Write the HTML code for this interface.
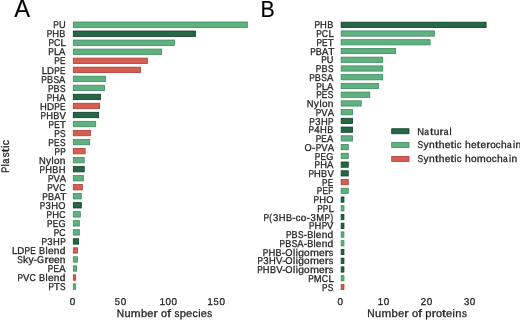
<!DOCTYPE html>
<html><head><meta charset="utf-8"><style>
html,body{margin:0;padding:0;background:#fff;overflow:hidden;}
svg{display:block;will-change:transform;}
text{text-rendering:geometricPrecision;font-family:"Liberation Sans",sans-serif;}
</style></head><body>
<svg width="520" height="320" viewBox="0 0 520 320">
<rect width="520" height="320" fill="#fff"/>
<rect x="73.30" y="22.00" width="174.05" height="5.40" fill="rgb(95,178,128)" stroke="rgb(62,138,96)" stroke-width="0.8"/>
<g fill="#262626" stroke="#262626" stroke-width="0.3" font-size="9.96"><text x="53.33" y="28.35" textLength="5.56" lengthAdjust="spacingAndGlyphs">P</text><text x="58.88" y="28.35" textLength="6.67" lengthAdjust="spacingAndGlyphs">U</text></g>
<rect x="73.30" y="31.03" width="122.20" height="5.40" fill="rgb(38,103,70)" stroke="rgb(12,62,38)" stroke-width="0.8"/>
<g fill="#262626" stroke="#262626" stroke-width="0.3" font-size="9.96"><text x="46.69" y="37.38" textLength="5.56" lengthAdjust="spacingAndGlyphs">P</text><text x="52.27" y="37.38" textLength="6.79" lengthAdjust="spacingAndGlyphs">H</text><text x="59.36" y="37.38" textLength="6.09" lengthAdjust="spacingAndGlyphs">B</text></g>
<rect x="73.30" y="40.06" width="101.10" height="5.40" fill="rgb(95,178,128)" stroke="rgb(62,138,96)" stroke-width="0.8"/>
<g fill="#262626" stroke="#262626" stroke-width="0.3" font-size="9.96"><text x="48.41" y="46.41" textLength="5.56" lengthAdjust="spacingAndGlyphs">P</text><text x="53.93" y="46.41" textLength="6.31" lengthAdjust="spacingAndGlyphs">C</text><text x="60.53" y="46.41" textLength="5.41" lengthAdjust="spacingAndGlyphs">L</text></g>
<rect x="73.30" y="49.09" width="88.40" height="5.40" fill="rgb(95,178,128)" stroke="rgb(62,138,96)" stroke-width="0.8"/>
<g fill="#262626" stroke="#262626" stroke-width="0.3" font-size="9.96"><text x="48.33" y="55.44" textLength="5.56" lengthAdjust="spacingAndGlyphs">P</text><text x="53.88" y="55.44" textLength="5.41" lengthAdjust="spacingAndGlyphs">L</text><text x="59.05" y="55.44" textLength="6.32" lengthAdjust="spacingAndGlyphs">A</text></g>
<rect x="73.30" y="58.12" width="74.10" height="5.40" fill="rgb(214,94,80)" stroke="rgb(172,62,52)" stroke-width="0.8"/>
<g fill="#262626" stroke="#262626" stroke-width="0.3" font-size="9.96"><text x="54.27" y="64.47" textLength="5.56" lengthAdjust="spacingAndGlyphs">P</text><text x="59.96" y="64.47" textLength="5.43" lengthAdjust="spacingAndGlyphs">E</text></g>
<rect x="73.30" y="67.15" width="67.30" height="5.40" fill="rgb(214,94,80)" stroke="rgb(172,62,52)" stroke-width="0.8"/>
<g fill="#262626" stroke="#262626" stroke-width="0.3" font-size="9.96"><text x="41.68" y="73.50" textLength="5.41" lengthAdjust="spacingAndGlyphs">L</text><text x="46.92" y="73.50" textLength="7.02" lengthAdjust="spacingAndGlyphs">D</text><text x="54.27" y="73.50" textLength="5.56" lengthAdjust="spacingAndGlyphs">P</text><text x="59.96" y="73.50" textLength="5.43" lengthAdjust="spacingAndGlyphs">E</text></g>
<rect x="73.30" y="76.18" width="32.20" height="5.40" fill="rgb(95,178,128)" stroke="rgb(62,138,96)" stroke-width="0.8"/>
<g fill="#262626" stroke="#262626" stroke-width="0.3" font-size="9.96"><text x="41.35" y="82.53" textLength="5.56" lengthAdjust="spacingAndGlyphs">P</text><text x="46.96" y="82.53" textLength="6.09" lengthAdjust="spacingAndGlyphs">B</text><text x="53.48" y="82.53" textLength="5.59" lengthAdjust="spacingAndGlyphs">S</text><text x="59.09" y="82.53" textLength="6.32" lengthAdjust="spacingAndGlyphs">A</text></g>
<rect x="73.30" y="85.21" width="31.20" height="5.40" fill="rgb(95,178,128)" stroke="rgb(62,138,96)" stroke-width="0.8"/>
<g fill="#262626" stroke="#262626" stroke-width="0.3" font-size="9.96"><text x="47.96" y="91.56" textLength="5.56" lengthAdjust="spacingAndGlyphs">P</text><text x="53.56" y="91.56" textLength="6.09" lengthAdjust="spacingAndGlyphs">B</text><text x="60.08" y="91.56" textLength="5.59" lengthAdjust="spacingAndGlyphs">S</text></g>
<rect x="73.30" y="94.24" width="27.10" height="5.40" fill="rgb(38,103,70)" stroke="rgb(12,62,38)" stroke-width="0.8"/>
<g fill="#262626" stroke="#262626" stroke-width="0.3" font-size="9.96"><text x="46.71" y="100.59" textLength="5.56" lengthAdjust="spacingAndGlyphs">P</text><text x="52.29" y="100.59" textLength="6.79" lengthAdjust="spacingAndGlyphs">H</text><text x="59.27" y="100.59" textLength="6.32" lengthAdjust="spacingAndGlyphs">A</text></g>
<rect x="73.30" y="103.27" width="26.30" height="5.40" fill="rgb(214,94,80)" stroke="rgb(172,62,52)" stroke-width="0.8"/>
<g fill="#262626" stroke="#262626" stroke-width="0.3" font-size="9.96"><text x="39.88" y="109.62" textLength="6.79" lengthAdjust="spacingAndGlyphs">H</text><text x="46.92" y="109.62" textLength="7.02" lengthAdjust="spacingAndGlyphs">D</text><text x="54.27" y="109.62" textLength="5.56" lengthAdjust="spacingAndGlyphs">P</text><text x="59.96" y="109.62" textLength="5.43" lengthAdjust="spacingAndGlyphs">E</text></g>
<rect x="73.30" y="112.30" width="25.30" height="5.40" fill="rgb(38,103,70)" stroke="rgb(12,62,38)" stroke-width="0.8"/>
<g fill="#262626" stroke="#262626" stroke-width="0.3" font-size="9.96"><text x="40.55" y="118.65" textLength="5.56" lengthAdjust="spacingAndGlyphs">P</text><text x="46.13" y="118.65" textLength="6.79" lengthAdjust="spacingAndGlyphs">H</text><text x="53.22" y="118.65" textLength="6.09" lengthAdjust="spacingAndGlyphs">B</text><text x="59.53" y="118.65" textLength="6.37" lengthAdjust="spacingAndGlyphs">V</text></g>
<rect x="73.30" y="121.33" width="22.40" height="5.40" fill="rgb(95,178,128)" stroke="rgb(62,138,96)" stroke-width="0.8"/>
<g fill="#262626" stroke="#262626" stroke-width="0.3" font-size="9.96"><text x="48.53" y="127.68" textLength="5.56" lengthAdjust="spacingAndGlyphs">P</text><text x="54.21" y="127.68" textLength="5.43" lengthAdjust="spacingAndGlyphs">E</text><text x="59.65" y="127.68" textLength="6.28" lengthAdjust="spacingAndGlyphs">T</text></g>
<rect x="73.30" y="130.36" width="17.20" height="5.40" fill="rgb(214,94,80)" stroke="rgb(172,62,52)" stroke-width="0.8"/>
<g fill="#262626" stroke="#262626" stroke-width="0.3" font-size="9.96"><text x="54.24" y="136.71" textLength="5.56" lengthAdjust="spacingAndGlyphs">P</text><text x="59.92" y="136.71" textLength="5.59" lengthAdjust="spacingAndGlyphs">S</text></g>
<rect x="73.30" y="139.39" width="16.40" height="5.40" fill="rgb(95,178,128)" stroke="rgb(62,138,96)" stroke-width="0.8"/>
<g fill="#262626" stroke="#262626" stroke-width="0.3" font-size="9.96"><text x="48.30" y="145.74" textLength="5.56" lengthAdjust="spacingAndGlyphs">P</text><text x="53.99" y="145.74" textLength="5.43" lengthAdjust="spacingAndGlyphs">E</text><text x="59.92" y="145.74" textLength="5.59" lengthAdjust="spacingAndGlyphs">S</text></g>
<rect x="73.30" y="148.42" width="11.80" height="5.40" fill="rgb(214,94,80)" stroke="rgb(172,62,52)" stroke-width="0.8"/>
<g fill="#262626" stroke="#262626" stroke-width="0.3" font-size="9.96"><text x="54.54" y="154.77" textLength="5.56" lengthAdjust="spacingAndGlyphs">P</text><text x="60.21" y="154.77" textLength="5.56" lengthAdjust="spacingAndGlyphs">P</text></g>
<rect x="73.30" y="157.45" width="10.90" height="5.40" fill="rgb(95,178,128)" stroke="rgb(62,138,96)" stroke-width="0.8"/>
<g fill="#262626" stroke="#262626" stroke-width="0.3" font-size="9.96"><text x="38.88" y="163.80" textLength="6.73" lengthAdjust="spacingAndGlyphs">N</text><text x="46.02" y="163.80" textLength="5.06" lengthAdjust="spacingAndGlyphs">y</text><text x="51.57" y="163.80" textLength="2.15" lengthAdjust="spacingAndGlyphs">l</text><text x="54.03" y="163.80" textLength="5.56" lengthAdjust="spacingAndGlyphs">o</text><text x="59.85" y="163.80" textLength="5.66" lengthAdjust="spacingAndGlyphs">n</text></g>
<rect x="73.30" y="166.48" width="10.90" height="5.40" fill="rgb(38,103,70)" stroke="rgb(12,62,38)" stroke-width="0.8"/>
<g fill="#262626" stroke="#262626" stroke-width="0.3" font-size="9.96"><text x="39.62" y="172.83" textLength="5.56" lengthAdjust="spacingAndGlyphs">P</text><text x="45.21" y="172.83" textLength="6.79" lengthAdjust="spacingAndGlyphs">H</text><text x="52.30" y="172.83" textLength="6.09" lengthAdjust="spacingAndGlyphs">B</text><text x="58.72" y="172.83" textLength="6.79" lengthAdjust="spacingAndGlyphs">H</text></g>
<rect x="73.30" y="175.51" width="10.05" height="5.40" fill="rgb(95,178,128)" stroke="rgb(62,138,96)" stroke-width="0.8"/>
<g fill="#262626" stroke="#262626" stroke-width="0.3" font-size="9.96"><text x="47.95" y="181.86" textLength="5.56" lengthAdjust="spacingAndGlyphs">P</text><text x="53.41" y="181.86" textLength="6.37" lengthAdjust="spacingAndGlyphs">V</text><text x="59.87" y="181.86" textLength="6.32" lengthAdjust="spacingAndGlyphs">A</text></g>
<rect x="73.30" y="184.54" width="9.05" height="5.40" fill="rgb(214,94,80)" stroke="rgb(172,62,52)" stroke-width="0.8"/>
<g fill="#262626" stroke="#262626" stroke-width="0.3" font-size="9.96"><text x="47.22" y="190.89" textLength="5.56" lengthAdjust="spacingAndGlyphs">P</text><text x="52.68" y="190.89" textLength="6.37" lengthAdjust="spacingAndGlyphs">V</text><text x="59.17" y="190.89" textLength="6.31" lengthAdjust="spacingAndGlyphs">C</text></g>
<rect x="73.30" y="193.57" width="8.00" height="5.40" fill="rgb(95,178,128)" stroke="rgb(62,138,96)" stroke-width="0.8"/>
<g fill="#262626" stroke="#262626" stroke-width="0.3" font-size="9.96"><text x="42.32" y="199.92" textLength="5.56" lengthAdjust="spacingAndGlyphs">P</text><text x="47.92" y="199.92" textLength="6.09" lengthAdjust="spacingAndGlyphs">B</text><text x="54.25" y="199.92" textLength="6.32" lengthAdjust="spacingAndGlyphs">A</text><text x="60.38" y="199.92" textLength="6.28" lengthAdjust="spacingAndGlyphs">T</text></g>
<rect x="73.30" y="202.60" width="8.00" height="5.40" fill="rgb(38,103,70)" stroke="rgb(12,62,38)" stroke-width="0.8"/>
<g fill="#262626" stroke="#262626" stroke-width="0.3" font-size="9.96"><text x="39.76" y="208.95" textLength="5.56" lengthAdjust="spacingAndGlyphs">P</text><text x="45.55" y="208.95" textLength="5.31" lengthAdjust="spacingAndGlyphs">3</text><text x="51.32" y="208.95" textLength="6.79" lengthAdjust="spacingAndGlyphs">H</text><text x="58.33" y="208.95" textLength="7.23" lengthAdjust="spacingAndGlyphs">O</text></g>
<rect x="73.30" y="211.63" width="7.05" height="5.40" fill="rgb(95,178,128)" stroke="rgb(62,138,96)" stroke-width="0.8"/>
<g fill="#262626" stroke="#262626" stroke-width="0.3" font-size="9.96"><text x="46.58" y="217.98" textLength="5.56" lengthAdjust="spacingAndGlyphs">P</text><text x="52.16" y="217.98" textLength="6.79" lengthAdjust="spacingAndGlyphs">H</text><text x="59.17" y="217.98" textLength="6.31" lengthAdjust="spacingAndGlyphs">C</text></g>
<rect x="73.30" y="220.66" width="6.05" height="5.40" fill="rgb(95,178,128)" stroke="rgb(62,138,96)" stroke-width="0.8"/>
<g fill="#262626" stroke="#262626" stroke-width="0.3" font-size="9.96"><text x="46.99" y="227.01" textLength="5.56" lengthAdjust="spacingAndGlyphs">P</text><text x="52.67" y="227.01" textLength="5.43" lengthAdjust="spacingAndGlyphs">E</text><text x="58.42" y="227.01" textLength="7.14" lengthAdjust="spacingAndGlyphs">G</text></g>
<rect x="73.30" y="229.69" width="6.05" height="5.40" fill="rgb(95,178,128)" stroke="rgb(62,138,96)" stroke-width="0.8"/>
<g fill="#262626" stroke="#262626" stroke-width="0.3" font-size="9.96"><text x="53.65" y="236.04" textLength="5.56" lengthAdjust="spacingAndGlyphs">P</text><text x="59.17" y="236.04" textLength="6.31" lengthAdjust="spacingAndGlyphs">C</text></g>
<rect x="73.30" y="238.72" width="5.30" height="5.40" fill="rgb(38,103,70)" stroke="rgb(12,62,38)" stroke-width="0.8"/>
<g fill="#262626" stroke="#262626" stroke-width="0.3" font-size="9.96"><text x="41.49" y="245.07" textLength="5.56" lengthAdjust="spacingAndGlyphs">P</text><text x="47.28" y="245.07" textLength="5.31" lengthAdjust="spacingAndGlyphs">3</text><text x="53.05" y="245.07" textLength="6.79" lengthAdjust="spacingAndGlyphs">H</text><text x="60.21" y="245.07" textLength="5.56" lengthAdjust="spacingAndGlyphs">P</text></g>
<rect x="73.30" y="247.75" width="4.20" height="5.40" fill="rgb(214,94,80)" stroke="rgb(172,62,52)" stroke-width="0.8"/>
<g fill="#262626" stroke="#262626" stroke-width="0.3" font-size="9.96"><text x="11.92" y="254.10" textLength="5.41" lengthAdjust="spacingAndGlyphs">L</text><text x="17.16" y="254.10" textLength="7.02" lengthAdjust="spacingAndGlyphs">D</text><text x="24.51" y="254.10" textLength="5.56" lengthAdjust="spacingAndGlyphs">P</text><text x="30.20" y="254.10" textLength="5.43" lengthAdjust="spacingAndGlyphs">E</text><text x="39.04" y="254.10" textLength="6.09" lengthAdjust="spacingAndGlyphs">B</text><text x="45.57" y="254.10" textLength="2.15" lengthAdjust="spacingAndGlyphs">l</text><text x="48.03" y="254.10" textLength="5.65" lengthAdjust="spacingAndGlyphs">e</text><text x="53.88" y="254.10" textLength="5.66" lengthAdjust="spacingAndGlyphs">n</text><text x="59.77" y="254.10" textLength="5.69" lengthAdjust="spacingAndGlyphs">d</text></g>
<rect x="73.30" y="256.78" width="4.20" height="5.40" fill="rgb(95,178,128)" stroke="rgb(62,138,96)" stroke-width="0.8"/>
<g fill="#262626" stroke="#262626" stroke-width="0.3" font-size="9.96"><text x="17.21" y="263.13" textLength="5.59" lengthAdjust="spacingAndGlyphs">S</text><text x="23.08" y="263.13" textLength="5.27" lengthAdjust="spacingAndGlyphs">k</text><text x="28.64" y="263.13" textLength="5.06" lengthAdjust="spacingAndGlyphs">y</text><text x="33.60" y="263.13" textLength="3.39" lengthAdjust="spacingAndGlyphs">-</text><text x="36.90" y="263.13" textLength="7.14" lengthAdjust="spacingAndGlyphs">G</text><text x="44.53" y="263.13" textLength="4.00" lengthAdjust="spacingAndGlyphs">r</text><text x="48.42" y="263.13" textLength="5.65" lengthAdjust="spacingAndGlyphs">e</text><text x="53.99" y="263.13" textLength="5.65" lengthAdjust="spacingAndGlyphs">e</text><text x="59.85" y="263.13" textLength="5.66" lengthAdjust="spacingAndGlyphs">n</text></g>
<rect x="73.30" y="265.81" width="3.30" height="5.40" fill="rgb(95,178,128)" stroke="rgb(62,138,96)" stroke-width="0.8"/>
<g fill="#262626" stroke="#262626" stroke-width="0.3" font-size="9.96"><text x="47.84" y="272.16" textLength="5.56" lengthAdjust="spacingAndGlyphs">P</text><text x="53.52" y="272.16" textLength="5.43" lengthAdjust="spacingAndGlyphs">E</text><text x="59.27" y="272.16" textLength="6.32" lengthAdjust="spacingAndGlyphs">A</text></g>
<rect x="73.30" y="274.84" width="2.40" height="5.40" fill="rgb(214,94,80)" stroke="rgb(172,62,52)" stroke-width="0.8"/>
<g fill="#262626" stroke="#262626" stroke-width="0.3" font-size="9.96"><text x="17.46" y="281.19" textLength="5.56" lengthAdjust="spacingAndGlyphs">P</text><text x="22.92" y="281.19" textLength="6.37" lengthAdjust="spacingAndGlyphs">V</text><text x="29.41" y="281.19" textLength="6.31" lengthAdjust="spacingAndGlyphs">C</text><text x="39.04" y="281.19" textLength="6.09" lengthAdjust="spacingAndGlyphs">B</text><text x="45.57" y="281.19" textLength="2.15" lengthAdjust="spacingAndGlyphs">l</text><text x="48.03" y="281.19" textLength="5.65" lengthAdjust="spacingAndGlyphs">e</text><text x="53.88" y="281.19" textLength="5.66" lengthAdjust="spacingAndGlyphs">n</text><text x="59.77" y="281.19" textLength="5.69" lengthAdjust="spacingAndGlyphs">d</text></g>
<rect x="73.30" y="283.87" width="2.40" height="5.40" fill="rgb(95,178,128)" stroke="rgb(62,138,96)" stroke-width="0.8"/>
<g fill="#262626" stroke="#262626" stroke-width="0.3" font-size="9.96"><text x="48.50" y="290.22" textLength="5.56" lengthAdjust="spacingAndGlyphs">P</text><text x="53.69" y="290.22" textLength="6.28" lengthAdjust="spacingAndGlyphs">T</text><text x="59.92" y="290.22" textLength="5.59" lengthAdjust="spacingAndGlyphs">S</text></g>
<g fill="#262626" stroke="#262626" stroke-width="0.3" font-size="9.96"><text x="69.77" y="305.10" textLength="5.53" lengthAdjust="spacingAndGlyphs">0</text></g>
<g fill="#262626" stroke="#262626" stroke-width="0.3" font-size="9.96"><text x="114.82" y="305.10" textLength="5.20" lengthAdjust="spacingAndGlyphs">5</text><text x="120.66" y="305.10" textLength="5.53" lengthAdjust="spacingAndGlyphs">0</text></g>
<g fill="#262626" stroke="#262626" stroke-width="0.3" font-size="9.96"><text x="159.70" y="305.10" textLength="5.26" lengthAdjust="spacingAndGlyphs">1</text><text x="165.57" y="305.10" textLength="5.53" lengthAdjust="spacingAndGlyphs">0</text><text x="171.55" y="305.10" textLength="5.53" lengthAdjust="spacingAndGlyphs">0</text></g>
<g fill="#262626" stroke="#262626" stroke-width="0.3" font-size="9.96"><text x="207.60" y="305.10" textLength="5.26" lengthAdjust="spacingAndGlyphs">1</text><text x="213.61" y="305.10" textLength="5.20" lengthAdjust="spacingAndGlyphs">5</text><text x="219.45" y="305.10" textLength="5.53" lengthAdjust="spacingAndGlyphs">0</text></g>
<g fill="#262626" stroke="#262626" stroke-width="0.3" font-size="10.85"><text x="116.76" y="317.40" textLength="7.33" lengthAdjust="spacingAndGlyphs">N</text><text x="124.42" y="317.40" textLength="6.13" lengthAdjust="spacingAndGlyphs">u</text><text x="130.89" y="317.40" textLength="9.75" lengthAdjust="spacingAndGlyphs">m</text><text x="140.93" y="317.40" textLength="6.20" lengthAdjust="spacingAndGlyphs">b</text><text x="147.33" y="317.40" textLength="6.15" lengthAdjust="spacingAndGlyphs">e</text><text x="153.61" y="317.40" textLength="4.36" lengthAdjust="spacingAndGlyphs">r</text><text x="161.11" y="317.40" textLength="6.06" lengthAdjust="spacingAndGlyphs">o</text><text x="167.30" y="317.40" textLength="3.76" lengthAdjust="spacingAndGlyphs">f</text><text x="174.43" y="317.40" textLength="4.89" lengthAdjust="spacingAndGlyphs">s</text><text x="179.67" y="317.40" textLength="6.20" lengthAdjust="spacingAndGlyphs">p</text><text x="186.07" y="317.40" textLength="6.15" lengthAdjust="spacingAndGlyphs">e</text><text x="192.40" y="317.40" textLength="5.15" lengthAdjust="spacingAndGlyphs">c</text><text x="198.17" y="317.40" textLength="2.34" lengthAdjust="spacingAndGlyphs">i</text><text x="200.85" y="317.40" textLength="6.15" lengthAdjust="spacingAndGlyphs">e</text><text x="207.35" y="317.40" textLength="4.89" lengthAdjust="spacingAndGlyphs">s</text></g>
<g fill="#000" stroke="#000" stroke-width="0.15" font-size="25.01"><text x="14.34" y="17.45" textLength="15.86" lengthAdjust="spacingAndGlyphs">A</text></g>
<rect x="341.15" y="22.18" width="144.94" height="5.25" fill="rgb(38,103,70)" stroke="rgb(12,62,38)" stroke-width="0.8"/>
<g fill="#262626" stroke="#262626" stroke-width="0.3" font-size="9.96"><text x="314.54" y="28.45" textLength="5.56" lengthAdjust="spacingAndGlyphs">P</text><text x="320.12" y="28.45" textLength="6.79" lengthAdjust="spacingAndGlyphs">H</text><text x="327.21" y="28.45" textLength="6.09" lengthAdjust="spacingAndGlyphs">B</text></g>
<rect x="341.15" y="30.91" width="93.25" height="5.25" fill="rgb(95,178,128)" stroke="rgb(62,138,96)" stroke-width="0.8"/>
<g fill="#262626" stroke="#262626" stroke-width="0.3" font-size="9.96"><text x="316.26" y="37.19" textLength="5.56" lengthAdjust="spacingAndGlyphs">P</text><text x="321.78" y="37.19" textLength="6.31" lengthAdjust="spacingAndGlyphs">C</text><text x="328.38" y="37.19" textLength="5.41" lengthAdjust="spacingAndGlyphs">L</text></g>
<rect x="341.15" y="39.65" width="88.95" height="5.25" fill="rgb(95,178,128)" stroke="rgb(62,138,96)" stroke-width="0.8"/>
<g fill="#262626" stroke="#262626" stroke-width="0.3" font-size="9.96"><text x="316.38" y="45.93" textLength="5.56" lengthAdjust="spacingAndGlyphs">P</text><text x="322.06" y="45.93" textLength="5.43" lengthAdjust="spacingAndGlyphs">E</text><text x="327.50" y="45.93" textLength="6.28" lengthAdjust="spacingAndGlyphs">T</text></g>
<rect x="341.15" y="48.39" width="54.49" height="5.25" fill="rgb(95,178,128)" stroke="rgb(62,138,96)" stroke-width="0.8"/>
<g fill="#262626" stroke="#262626" stroke-width="0.3" font-size="9.96"><text x="310.17" y="54.67" textLength="5.56" lengthAdjust="spacingAndGlyphs">P</text><text x="315.77" y="54.67" textLength="6.09" lengthAdjust="spacingAndGlyphs">B</text><text x="322.10" y="54.67" textLength="6.32" lengthAdjust="spacingAndGlyphs">A</text><text x="328.23" y="54.67" textLength="6.28" lengthAdjust="spacingAndGlyphs">T</text></g>
<rect x="341.15" y="57.13" width="41.57" height="5.25" fill="rgb(95,178,128)" stroke="rgb(62,138,96)" stroke-width="0.8"/>
<g fill="#262626" stroke="#262626" stroke-width="0.3" font-size="9.96"><text x="321.18" y="63.41" textLength="5.56" lengthAdjust="spacingAndGlyphs">P</text><text x="326.73" y="63.41" textLength="6.67" lengthAdjust="spacingAndGlyphs">U</text></g>
<rect x="341.15" y="65.87" width="41.57" height="5.25" fill="rgb(95,178,128)" stroke="rgb(62,138,96)" stroke-width="0.8"/>
<g fill="#262626" stroke="#262626" stroke-width="0.3" font-size="9.96"><text x="315.81" y="72.15" textLength="5.56" lengthAdjust="spacingAndGlyphs">P</text><text x="321.41" y="72.15" textLength="6.09" lengthAdjust="spacingAndGlyphs">B</text><text x="327.93" y="72.15" textLength="5.59" lengthAdjust="spacingAndGlyphs">S</text></g>
<rect x="341.15" y="74.61" width="41.57" height="5.25" fill="rgb(95,178,128)" stroke="rgb(62,138,96)" stroke-width="0.8"/>
<g fill="#262626" stroke="#262626" stroke-width="0.3" font-size="9.96"><text x="309.20" y="80.88" textLength="5.56" lengthAdjust="spacingAndGlyphs">P</text><text x="314.81" y="80.88" textLength="6.09" lengthAdjust="spacingAndGlyphs">B</text><text x="321.33" y="80.88" textLength="5.59" lengthAdjust="spacingAndGlyphs">S</text><text x="326.94" y="80.88" textLength="6.32" lengthAdjust="spacingAndGlyphs">A</text></g>
<rect x="341.15" y="83.35" width="37.26" height="5.25" fill="rgb(95,178,128)" stroke="rgb(62,138,96)" stroke-width="0.8"/>
<g fill="#262626" stroke="#262626" stroke-width="0.3" font-size="9.96"><text x="316.18" y="89.62" textLength="5.56" lengthAdjust="spacingAndGlyphs">P</text><text x="321.73" y="89.62" textLength="5.41" lengthAdjust="spacingAndGlyphs">L</text><text x="326.90" y="89.62" textLength="6.32" lengthAdjust="spacingAndGlyphs">A</text></g>
<rect x="341.15" y="92.09" width="28.65" height="5.25" fill="rgb(95,178,128)" stroke="rgb(62,138,96)" stroke-width="0.8"/>
<g fill="#262626" stroke="#262626" stroke-width="0.3" font-size="9.96"><text x="316.15" y="98.36" textLength="5.56" lengthAdjust="spacingAndGlyphs">P</text><text x="321.84" y="98.36" textLength="5.43" lengthAdjust="spacingAndGlyphs">E</text><text x="327.77" y="98.36" textLength="5.59" lengthAdjust="spacingAndGlyphs">S</text></g>
<rect x="341.15" y="100.83" width="20.04" height="5.25" fill="rgb(95,178,128)" stroke="rgb(62,138,96)" stroke-width="0.8"/>
<g fill="#262626" stroke="#262626" stroke-width="0.3" font-size="9.96"><text x="306.73" y="107.10" textLength="6.73" lengthAdjust="spacingAndGlyphs">N</text><text x="313.87" y="107.10" textLength="5.06" lengthAdjust="spacingAndGlyphs">y</text><text x="319.42" y="107.10" textLength="2.15" lengthAdjust="spacingAndGlyphs">l</text><text x="321.88" y="107.10" textLength="5.56" lengthAdjust="spacingAndGlyphs">o</text><text x="327.70" y="107.10" textLength="5.66" lengthAdjust="spacingAndGlyphs">n</text></g>
<rect x="341.15" y="109.57" width="11.42" height="5.25" fill="rgb(95,178,128)" stroke="rgb(62,138,96)" stroke-width="0.8"/>
<g fill="#262626" stroke="#262626" stroke-width="0.3" font-size="9.96"><text x="315.80" y="115.84" textLength="5.56" lengthAdjust="spacingAndGlyphs">P</text><text x="321.26" y="115.84" textLength="6.37" lengthAdjust="spacingAndGlyphs">V</text><text x="327.72" y="115.84" textLength="6.32" lengthAdjust="spacingAndGlyphs">A</text></g>
<rect x="341.15" y="118.30" width="11.42" height="5.25" fill="rgb(38,103,70)" stroke="rgb(12,62,38)" stroke-width="0.8"/>
<g fill="#262626" stroke="#262626" stroke-width="0.3" font-size="9.96"><text x="309.34" y="124.58" textLength="5.56" lengthAdjust="spacingAndGlyphs">P</text><text x="315.13" y="124.58" textLength="5.31" lengthAdjust="spacingAndGlyphs">3</text><text x="320.90" y="124.58" textLength="6.79" lengthAdjust="spacingAndGlyphs">H</text><text x="328.06" y="124.58" textLength="5.56" lengthAdjust="spacingAndGlyphs">P</text></g>
<rect x="341.15" y="127.04" width="11.42" height="5.25" fill="rgb(38,103,70)" stroke="rgb(12,62,38)" stroke-width="0.8"/>
<g fill="#262626" stroke="#262626" stroke-width="0.3" font-size="9.96"><text x="308.56" y="133.32" textLength="5.56" lengthAdjust="spacingAndGlyphs">P</text><text x="314.23" y="133.32" textLength="5.51" lengthAdjust="spacingAndGlyphs">4</text><text x="320.12" y="133.32" textLength="6.79" lengthAdjust="spacingAndGlyphs">H</text><text x="327.21" y="133.32" textLength="6.09" lengthAdjust="spacingAndGlyphs">B</text></g>
<rect x="341.15" y="135.78" width="11.42" height="5.25" fill="rgb(95,178,128)" stroke="rgb(62,138,96)" stroke-width="0.8"/>
<g fill="#262626" stroke="#262626" stroke-width="0.3" font-size="9.96"><text x="315.69" y="142.06" textLength="5.56" lengthAdjust="spacingAndGlyphs">P</text><text x="321.37" y="142.06" textLength="5.43" lengthAdjust="spacingAndGlyphs">E</text><text x="327.12" y="142.06" textLength="6.32" lengthAdjust="spacingAndGlyphs">A</text></g>
<rect x="341.15" y="144.52" width="7.11" height="5.25" fill="rgb(95,178,128)" stroke="rgb(62,138,96)" stroke-width="0.8"/>
<g fill="#262626" stroke="#262626" stroke-width="0.3" font-size="9.96"><text x="304.59" y="150.80" textLength="7.23" lengthAdjust="spacingAndGlyphs">O</text><text x="311.91" y="150.80" textLength="3.39" lengthAdjust="spacingAndGlyphs">-</text><text x="315.80" y="150.80" textLength="5.56" lengthAdjust="spacingAndGlyphs">P</text><text x="321.26" y="150.80" textLength="6.37" lengthAdjust="spacingAndGlyphs">V</text><text x="327.72" y="150.80" textLength="6.32" lengthAdjust="spacingAndGlyphs">A</text></g>
<rect x="341.15" y="153.26" width="7.11" height="5.25" fill="rgb(95,178,128)" stroke="rgb(62,138,96)" stroke-width="0.8"/>
<g fill="#262626" stroke="#262626" stroke-width="0.3" font-size="9.96"><text x="314.84" y="159.54" textLength="5.56" lengthAdjust="spacingAndGlyphs">P</text><text x="320.52" y="159.54" textLength="5.43" lengthAdjust="spacingAndGlyphs">E</text><text x="326.27" y="159.54" textLength="7.14" lengthAdjust="spacingAndGlyphs">G</text></g>
<rect x="341.15" y="162.00" width="7.11" height="5.25" fill="rgb(38,103,70)" stroke="rgb(12,62,38)" stroke-width="0.8"/>
<g fill="#262626" stroke="#262626" stroke-width="0.3" font-size="9.96"><text x="314.56" y="168.27" textLength="5.56" lengthAdjust="spacingAndGlyphs">P</text><text x="320.14" y="168.27" textLength="6.79" lengthAdjust="spacingAndGlyphs">H</text><text x="327.12" y="168.27" textLength="6.32" lengthAdjust="spacingAndGlyphs">A</text></g>
<rect x="341.15" y="170.74" width="7.11" height="5.25" fill="rgb(38,103,70)" stroke="rgb(12,62,38)" stroke-width="0.8"/>
<g fill="#262626" stroke="#262626" stroke-width="0.3" font-size="9.96"><text x="308.40" y="177.01" textLength="5.56" lengthAdjust="spacingAndGlyphs">P</text><text x="313.98" y="177.01" textLength="6.79" lengthAdjust="spacingAndGlyphs">H</text><text x="321.07" y="177.01" textLength="6.09" lengthAdjust="spacingAndGlyphs">B</text><text x="327.38" y="177.01" textLength="6.37" lengthAdjust="spacingAndGlyphs">V</text></g>
<rect x="341.15" y="179.48" width="7.11" height="5.25" fill="rgb(214,94,80)" stroke="rgb(172,62,52)" stroke-width="0.8"/>
<g fill="#262626" stroke="#262626" stroke-width="0.3" font-size="9.96"><text x="322.12" y="185.75" textLength="5.56" lengthAdjust="spacingAndGlyphs">P</text><text x="327.81" y="185.75" textLength="5.43" lengthAdjust="spacingAndGlyphs">E</text></g>
<rect x="341.15" y="188.22" width="7.11" height="5.25" fill="rgb(95,178,128)" stroke="rgb(62,138,96)" stroke-width="0.8"/>
<g fill="#262626" stroke="#262626" stroke-width="0.3" font-size="9.96"><text x="316.71" y="194.49" textLength="5.56" lengthAdjust="spacingAndGlyphs">P</text><text x="322.40" y="194.49" textLength="5.43" lengthAdjust="spacingAndGlyphs">E</text><text x="328.34" y="194.49" textLength="4.95" lengthAdjust="spacingAndGlyphs">F</text></g>
<rect x="341.15" y="196.96" width="2.81" height="5.25" fill="rgb(38,103,70)" stroke="rgb(12,62,38)" stroke-width="0.8"/>
<g fill="#262626" stroke="#262626" stroke-width="0.3" font-size="9.96"><text x="313.59" y="203.23" textLength="5.56" lengthAdjust="spacingAndGlyphs">P</text><text x="319.17" y="203.23" textLength="6.79" lengthAdjust="spacingAndGlyphs">H</text><text x="326.18" y="203.23" textLength="7.23" lengthAdjust="spacingAndGlyphs">O</text></g>
<rect x="341.15" y="205.69" width="2.81" height="5.25" fill="rgb(95,178,128)" stroke="rgb(62,138,96)" stroke-width="0.8"/>
<g fill="#262626" stroke="#262626" stroke-width="0.3" font-size="9.96"><text x="317.15" y="211.97" textLength="5.56" lengthAdjust="spacingAndGlyphs">P</text><text x="322.82" y="211.97" textLength="5.56" lengthAdjust="spacingAndGlyphs">P</text><text x="328.38" y="211.97" textLength="5.41" lengthAdjust="spacingAndGlyphs">L</text></g>
<rect x="341.15" y="214.43" width="2.81" height="5.25" fill="rgb(38,103,70)" stroke="rgb(12,62,38)" stroke-width="0.8"/>
<g fill="#262626" stroke="#262626" stroke-width="0.3" font-size="9.96"><text x="263.59" y="220.71" textLength="5.56" lengthAdjust="spacingAndGlyphs">P</text><text x="269.33" y="220.71" textLength="2.66" lengthAdjust="spacingAndGlyphs">(</text><text x="273.04" y="220.71" textLength="5.31" lengthAdjust="spacingAndGlyphs">3</text><text x="278.82" y="220.71" textLength="6.79" lengthAdjust="spacingAndGlyphs">H</text><text x="285.91" y="220.71" textLength="6.09" lengthAdjust="spacingAndGlyphs">B</text><text x="292.18" y="220.71" textLength="3.39" lengthAdjust="spacingAndGlyphs">-</text><text x="295.70" y="220.71" textLength="4.73" lengthAdjust="spacingAndGlyphs">c</text><text x="300.85" y="220.71" textLength="5.56" lengthAdjust="spacingAndGlyphs">o</text><text x="306.50" y="220.71" textLength="3.39" lengthAdjust="spacingAndGlyphs">-</text><text x="310.42" y="220.71" textLength="5.31" lengthAdjust="spacingAndGlyphs">3</text><text x="316.19" y="220.71" textLength="7.83" lengthAdjust="spacingAndGlyphs">M</text><text x="324.39" y="220.71" textLength="5.56" lengthAdjust="spacingAndGlyphs">P</text><text x="330.52" y="220.71" textLength="2.66" lengthAdjust="spacingAndGlyphs">)</text></g>
<rect x="341.15" y="223.17" width="2.81" height="5.25" fill="rgb(38,103,70)" stroke="rgb(12,62,38)" stroke-width="0.8"/>
<g fill="#262626" stroke="#262626" stroke-width="0.3" font-size="9.96"><text x="308.89" y="229.45" textLength="5.56" lengthAdjust="spacingAndGlyphs">P</text><text x="314.47" y="229.45" textLength="6.79" lengthAdjust="spacingAndGlyphs">H</text><text x="321.63" y="229.45" textLength="5.56" lengthAdjust="spacingAndGlyphs">P</text><text x="327.09" y="229.45" textLength="6.37" lengthAdjust="spacingAndGlyphs">V</text></g>
<rect x="341.15" y="231.91" width="2.81" height="5.25" fill="rgb(95,178,128)" stroke="rgb(62,138,96)" stroke-width="0.8"/>
<g fill="#262626" stroke="#262626" stroke-width="0.3" font-size="9.96"><text x="285.98" y="238.19" textLength="5.56" lengthAdjust="spacingAndGlyphs">P</text><text x="291.59" y="238.19" textLength="6.09" lengthAdjust="spacingAndGlyphs">B</text><text x="298.11" y="238.19" textLength="5.59" lengthAdjust="spacingAndGlyphs">S</text><text x="303.66" y="238.19" textLength="3.39" lengthAdjust="spacingAndGlyphs">-</text><text x="307.23" y="238.19" textLength="6.09" lengthAdjust="spacingAndGlyphs">B</text><text x="313.42" y="238.19" textLength="2.15" lengthAdjust="spacingAndGlyphs">l</text><text x="315.88" y="238.19" textLength="5.65" lengthAdjust="spacingAndGlyphs">e</text><text x="321.73" y="238.19" textLength="5.66" lengthAdjust="spacingAndGlyphs">n</text><text x="327.62" y="238.19" textLength="5.69" lengthAdjust="spacingAndGlyphs">d</text></g>
<rect x="341.15" y="240.65" width="2.81" height="5.25" fill="rgb(95,178,128)" stroke="rgb(62,138,96)" stroke-width="0.8"/>
<g fill="#262626" stroke="#262626" stroke-width="0.3" font-size="9.96"><text x="279.59" y="246.93" textLength="5.56" lengthAdjust="spacingAndGlyphs">P</text><text x="285.19" y="246.93" textLength="6.09" lengthAdjust="spacingAndGlyphs">B</text><text x="291.71" y="246.93" textLength="5.59" lengthAdjust="spacingAndGlyphs">S</text><text x="297.32" y="246.93" textLength="6.32" lengthAdjust="spacingAndGlyphs">A</text><text x="303.87" y="246.93" textLength="3.39" lengthAdjust="spacingAndGlyphs">-</text><text x="307.23" y="246.93" textLength="6.09" lengthAdjust="spacingAndGlyphs">B</text><text x="313.42" y="246.93" textLength="2.15" lengthAdjust="spacingAndGlyphs">l</text><text x="315.88" y="246.93" textLength="5.65" lengthAdjust="spacingAndGlyphs">e</text><text x="321.73" y="246.93" textLength="5.66" lengthAdjust="spacingAndGlyphs">n</text><text x="327.62" y="246.93" textLength="5.69" lengthAdjust="spacingAndGlyphs">d</text></g>
<rect x="341.15" y="249.39" width="2.81" height="5.25" fill="rgb(38,103,70)" stroke="rgb(12,62,38)" stroke-width="0.8"/>
<g fill="#262626" stroke="#262626" stroke-width="0.3" font-size="9.96"><text x="262.85" y="255.66" textLength="5.56" lengthAdjust="spacingAndGlyphs">P</text><text x="268.43" y="255.66" textLength="6.79" lengthAdjust="spacingAndGlyphs">H</text><text x="275.52" y="255.66" textLength="6.09" lengthAdjust="spacingAndGlyphs">B</text><text x="281.79" y="255.66" textLength="3.39" lengthAdjust="spacingAndGlyphs">-</text><text x="285.27" y="255.66" textLength="7.23" lengthAdjust="spacingAndGlyphs">O</text><text x="293.10" y="255.66" textLength="2.15" lengthAdjust="spacingAndGlyphs">l</text><text x="295.71" y="255.66" textLength="2.15" lengthAdjust="spacingAndGlyphs">i</text><text x="298.16" y="255.66" textLength="5.69" lengthAdjust="spacingAndGlyphs">g</text><text x="304.14" y="255.66" textLength="5.56" lengthAdjust="spacingAndGlyphs">o</text><text x="309.92" y="255.66" textLength="8.95" lengthAdjust="spacingAndGlyphs">m</text><text x="319.04" y="255.66" textLength="5.65" lengthAdjust="spacingAndGlyphs">e</text><text x="324.80" y="255.66" textLength="4.00" lengthAdjust="spacingAndGlyphs">r</text><text x="328.87" y="255.66" textLength="4.49" lengthAdjust="spacingAndGlyphs">s</text></g>
<rect x="341.15" y="258.13" width="2.81" height="5.25" fill="rgb(38,103,70)" stroke="rgb(12,62,38)" stroke-width="0.8"/>
<g fill="#262626" stroke="#262626" stroke-width="0.3" font-size="9.96"><text x="257.43" y="264.40" textLength="5.56" lengthAdjust="spacingAndGlyphs">P</text><text x="263.22" y="264.40" textLength="5.31" lengthAdjust="spacingAndGlyphs">3</text><text x="269.00" y="264.40" textLength="6.79" lengthAdjust="spacingAndGlyphs">H</text><text x="275.95" y="264.40" textLength="6.37" lengthAdjust="spacingAndGlyphs">V</text><text x="282.34" y="264.40" textLength="3.39" lengthAdjust="spacingAndGlyphs">-</text><text x="285.27" y="264.40" textLength="7.23" lengthAdjust="spacingAndGlyphs">O</text><text x="293.10" y="264.40" textLength="2.15" lengthAdjust="spacingAndGlyphs">l</text><text x="295.71" y="264.40" textLength="2.15" lengthAdjust="spacingAndGlyphs">i</text><text x="298.16" y="264.40" textLength="5.69" lengthAdjust="spacingAndGlyphs">g</text><text x="304.14" y="264.40" textLength="5.56" lengthAdjust="spacingAndGlyphs">o</text><text x="309.92" y="264.40" textLength="8.95" lengthAdjust="spacingAndGlyphs">m</text><text x="319.04" y="264.40" textLength="5.65" lengthAdjust="spacingAndGlyphs">e</text><text x="324.80" y="264.40" textLength="4.00" lengthAdjust="spacingAndGlyphs">r</text><text x="328.87" y="264.40" textLength="4.49" lengthAdjust="spacingAndGlyphs">s</text></g>
<rect x="341.15" y="266.87" width="2.81" height="5.25" fill="rgb(38,103,70)" stroke="rgb(12,62,38)" stroke-width="0.8"/>
<g fill="#262626" stroke="#262626" stroke-width="0.3" font-size="9.96"><text x="257.25" y="273.14" textLength="5.56" lengthAdjust="spacingAndGlyphs">P</text><text x="262.84" y="273.14" textLength="6.79" lengthAdjust="spacingAndGlyphs">H</text><text x="269.93" y="273.14" textLength="6.09" lengthAdjust="spacingAndGlyphs">B</text><text x="276.24" y="273.14" textLength="6.37" lengthAdjust="spacingAndGlyphs">V</text><text x="282.34" y="273.14" textLength="3.39" lengthAdjust="spacingAndGlyphs">-</text><text x="285.27" y="273.14" textLength="7.23" lengthAdjust="spacingAndGlyphs">O</text><text x="293.10" y="273.14" textLength="2.15" lengthAdjust="spacingAndGlyphs">l</text><text x="295.71" y="273.14" textLength="2.15" lengthAdjust="spacingAndGlyphs">i</text><text x="298.16" y="273.14" textLength="5.69" lengthAdjust="spacingAndGlyphs">g</text><text x="304.14" y="273.14" textLength="5.56" lengthAdjust="spacingAndGlyphs">o</text><text x="309.92" y="273.14" textLength="8.95" lengthAdjust="spacingAndGlyphs">m</text><text x="319.04" y="273.14" textLength="5.65" lengthAdjust="spacingAndGlyphs">e</text><text x="324.80" y="273.14" textLength="4.00" lengthAdjust="spacingAndGlyphs">r</text><text x="328.87" y="273.14" textLength="4.49" lengthAdjust="spacingAndGlyphs">s</text></g>
<rect x="341.15" y="275.61" width="2.81" height="5.25" fill="rgb(95,178,128)" stroke="rgb(62,138,96)" stroke-width="0.8"/>
<g fill="#262626" stroke="#262626" stroke-width="0.3" font-size="9.96"><text x="308.15" y="281.88" textLength="5.56" lengthAdjust="spacingAndGlyphs">P</text><text x="313.73" y="281.88" textLength="7.83" lengthAdjust="spacingAndGlyphs">M</text><text x="321.78" y="281.88" textLength="6.31" lengthAdjust="spacingAndGlyphs">C</text><text x="328.38" y="281.88" textLength="5.41" lengthAdjust="spacingAndGlyphs">L</text></g>
<rect x="341.15" y="284.35" width="2.81" height="5.25" fill="rgb(214,94,80)" stroke="rgb(172,62,52)" stroke-width="0.8"/>
<g fill="#262626" stroke="#262626" stroke-width="0.3" font-size="9.96"><text x="322.09" y="290.62" textLength="5.56" lengthAdjust="spacingAndGlyphs">P</text><text x="327.77" y="290.62" textLength="5.59" lengthAdjust="spacingAndGlyphs">S</text></g>
<g fill="#262626" stroke="#262626" stroke-width="0.3" font-size="9.96"><text x="337.62" y="305.10" textLength="5.53" lengthAdjust="spacingAndGlyphs">0</text></g>
<g fill="#262626" stroke="#262626" stroke-width="0.3" font-size="9.96"><text x="377.81" y="305.10" textLength="5.26" lengthAdjust="spacingAndGlyphs">1</text><text x="383.68" y="305.10" textLength="5.53" lengthAdjust="spacingAndGlyphs">0</text></g>
<g fill="#262626" stroke="#262626" stroke-width="0.3" font-size="9.96"><text x="420.76" y="305.10" textLength="5.34" lengthAdjust="spacingAndGlyphs">2</text><text x="426.75" y="305.10" textLength="5.53" lengthAdjust="spacingAndGlyphs">0</text></g>
<g fill="#262626" stroke="#262626" stroke-width="0.3" font-size="9.96"><text x="463.98" y="305.10" textLength="5.31" lengthAdjust="spacingAndGlyphs">3</text><text x="469.82" y="305.10" textLength="5.53" lengthAdjust="spacingAndGlyphs">0</text></g>
<g fill="#262626" stroke="#262626" stroke-width="0.3" font-size="10.93"><text x="367.26" y="317.40" textLength="7.38" lengthAdjust="spacingAndGlyphs">N</text><text x="374.97" y="317.40" textLength="6.18" lengthAdjust="spacingAndGlyphs">u</text><text x="381.48" y="317.40" textLength="9.82" lengthAdjust="spacingAndGlyphs">m</text><text x="391.60" y="317.40" textLength="6.25" lengthAdjust="spacingAndGlyphs">b</text><text x="398.05" y="317.40" textLength="6.20" lengthAdjust="spacingAndGlyphs">e</text><text x="404.37" y="317.40" textLength="4.39" lengthAdjust="spacingAndGlyphs">r</text><text x="411.92" y="317.40" textLength="6.10" lengthAdjust="spacingAndGlyphs">o</text><text x="418.16" y="317.40" textLength="3.79" lengthAdjust="spacingAndGlyphs">f</text><text x="425.25" y="317.40" textLength="6.25" lengthAdjust="spacingAndGlyphs">p</text><text x="431.67" y="317.40" textLength="4.39" lengthAdjust="spacingAndGlyphs">r</text><text x="435.94" y="317.40" textLength="6.10" lengthAdjust="spacingAndGlyphs">o</text><text x="442.00" y="317.40" textLength="3.82" lengthAdjust="spacingAndGlyphs">t</text><text x="446.06" y="317.40" textLength="6.20" lengthAdjust="spacingAndGlyphs">e</text><text x="452.58" y="317.40" textLength="2.36" lengthAdjust="spacingAndGlyphs">i</text><text x="455.36" y="317.40" textLength="6.21" lengthAdjust="spacingAndGlyphs">n</text><text x="462.02" y="317.40" textLength="4.92" lengthAdjust="spacingAndGlyphs">s</text></g>
<g fill="#000" stroke="#000" stroke-width="0.15" font-size="23.21"><text x="260.44" y="17.30" textLength="14.20" lengthAdjust="spacingAndGlyphs">B</text></g>
<g transform="translate(8.5,156.3) rotate(-90)"><g fill="#262626" stroke="#262626" stroke-width="0.3" font-size="10.91"><text x="-16.41" y="0.00" textLength="6.10" lengthAdjust="spacingAndGlyphs">P</text><text x="-10.18" y="0.00" textLength="2.35" lengthAdjust="spacingAndGlyphs">l</text><text x="-7.36" y="0.00" textLength="5.14" lengthAdjust="spacingAndGlyphs">a</text><text x="-0.98" y="0.00" textLength="4.91" lengthAdjust="spacingAndGlyphs">s</text><text x="4.17" y="0.00" textLength="3.82" lengthAdjust="spacingAndGlyphs">t</text><text x="8.40" y="0.00" textLength="2.35" lengthAdjust="spacingAndGlyphs">i</text><text x="11.12" y="0.00" textLength="5.18" lengthAdjust="spacingAndGlyphs">c</text></g></g>
<rect x="391.70" y="128.75" width="17.30" height="5.00" fill="rgb(38,103,70)" stroke="rgb(12,62,38)" stroke-width="0.8"/>
<g fill="#262626" stroke="#262626" stroke-width="0.3" font-size="10.01"><text x="417.13" y="134.60" textLength="6.76" lengthAdjust="spacingAndGlyphs">N</text><text x="424.25" y="134.60" textLength="4.72" lengthAdjust="spacingAndGlyphs">a</text><text x="429.91" y="134.60" textLength="3.50" lengthAdjust="spacingAndGlyphs">t</text><text x="433.69" y="134.60" textLength="5.66" lengthAdjust="spacingAndGlyphs">u</text><text x="439.60" y="134.60" textLength="4.02" lengthAdjust="spacingAndGlyphs">r</text><text x="443.63" y="134.60" textLength="4.72" lengthAdjust="spacingAndGlyphs">a</text><text x="449.45" y="134.60" textLength="2.16" lengthAdjust="spacingAndGlyphs">l</text></g>
<rect x="391.70" y="142.50" width="17.30" height="5.00" fill="rgb(95,178,128)" stroke="rgb(62,138,96)" stroke-width="0.8"/>
<g fill="#262626" stroke="#262626" stroke-width="0.3" font-size="10.01"><text x="417.52" y="148.35" textLength="5.62" lengthAdjust="spacingAndGlyphs">S</text><text x="423.54" y="148.35" textLength="5.08" lengthAdjust="spacingAndGlyphs">y</text><text x="429.04" y="148.35" textLength="5.69" lengthAdjust="spacingAndGlyphs">n</text><text x="434.94" y="148.35" textLength="3.50" lengthAdjust="spacingAndGlyphs">t</text><text x="438.70" y="148.35" textLength="5.72" lengthAdjust="spacingAndGlyphs">h</text><text x="444.65" y="148.35" textLength="5.68" lengthAdjust="spacingAndGlyphs">e</text><text x="450.45" y="148.35" textLength="3.50" lengthAdjust="spacingAndGlyphs">t</text><text x="454.32" y="148.35" textLength="2.16" lengthAdjust="spacingAndGlyphs">i</text><text x="456.82" y="148.35" textLength="4.75" lengthAdjust="spacingAndGlyphs">c</text><text x="465.04" y="148.35" textLength="5.72" lengthAdjust="spacingAndGlyphs">h</text><text x="470.98" y="148.35" textLength="5.68" lengthAdjust="spacingAndGlyphs">e</text><text x="476.78" y="148.35" textLength="3.50" lengthAdjust="spacingAndGlyphs">t</text><text x="480.50" y="148.35" textLength="5.68" lengthAdjust="spacingAndGlyphs">e</text><text x="486.29" y="148.35" textLength="4.02" lengthAdjust="spacingAndGlyphs">r</text><text x="490.21" y="148.35" textLength="5.59" lengthAdjust="spacingAndGlyphs">o</text><text x="495.80" y="148.35" textLength="4.75" lengthAdjust="spacingAndGlyphs">c</text><text x="501.01" y="148.35" textLength="5.72" lengthAdjust="spacingAndGlyphs">h</text><text x="507.08" y="148.35" textLength="4.72" lengthAdjust="spacingAndGlyphs">a</text><text x="512.91" y="148.35" textLength="2.16" lengthAdjust="spacingAndGlyphs">i</text><text x="515.45" y="148.35" textLength="5.69" lengthAdjust="spacingAndGlyphs">n</text></g>
<rect x="391.70" y="156.40" width="17.30" height="5.00" fill="rgb(214,94,80)" stroke="rgb(172,62,52)" stroke-width="0.8"/>
<g fill="#262626" stroke="#262626" stroke-width="0.3" font-size="10.01"><text x="417.52" y="162.25" textLength="5.62" lengthAdjust="spacingAndGlyphs">S</text><text x="423.54" y="162.25" textLength="5.08" lengthAdjust="spacingAndGlyphs">y</text><text x="429.04" y="162.25" textLength="5.69" lengthAdjust="spacingAndGlyphs">n</text><text x="434.94" y="162.25" textLength="3.50" lengthAdjust="spacingAndGlyphs">t</text><text x="438.70" y="162.25" textLength="5.72" lengthAdjust="spacingAndGlyphs">h</text><text x="444.65" y="162.25" textLength="5.68" lengthAdjust="spacingAndGlyphs">e</text><text x="450.45" y="162.25" textLength="3.50" lengthAdjust="spacingAndGlyphs">t</text><text x="454.32" y="162.25" textLength="2.16" lengthAdjust="spacingAndGlyphs">i</text><text x="456.82" y="162.25" textLength="4.75" lengthAdjust="spacingAndGlyphs">c</text><text x="465.04" y="162.25" textLength="5.72" lengthAdjust="spacingAndGlyphs">h</text><text x="470.99" y="162.25" textLength="5.59" lengthAdjust="spacingAndGlyphs">o</text><text x="476.80" y="162.25" textLength="9.00" lengthAdjust="spacingAndGlyphs">m</text><text x="485.98" y="162.25" textLength="5.59" lengthAdjust="spacingAndGlyphs">o</text><text x="491.78" y="162.25" textLength="4.75" lengthAdjust="spacingAndGlyphs">c</text><text x="496.99" y="162.25" textLength="5.72" lengthAdjust="spacingAndGlyphs">h</text><text x="503.06" y="162.25" textLength="4.72" lengthAdjust="spacingAndGlyphs">a</text><text x="508.88" y="162.25" textLength="2.16" lengthAdjust="spacingAndGlyphs">i</text><text x="511.43" y="162.25" textLength="5.69" lengthAdjust="spacingAndGlyphs">n</text></g>
</svg>
</body></html>
